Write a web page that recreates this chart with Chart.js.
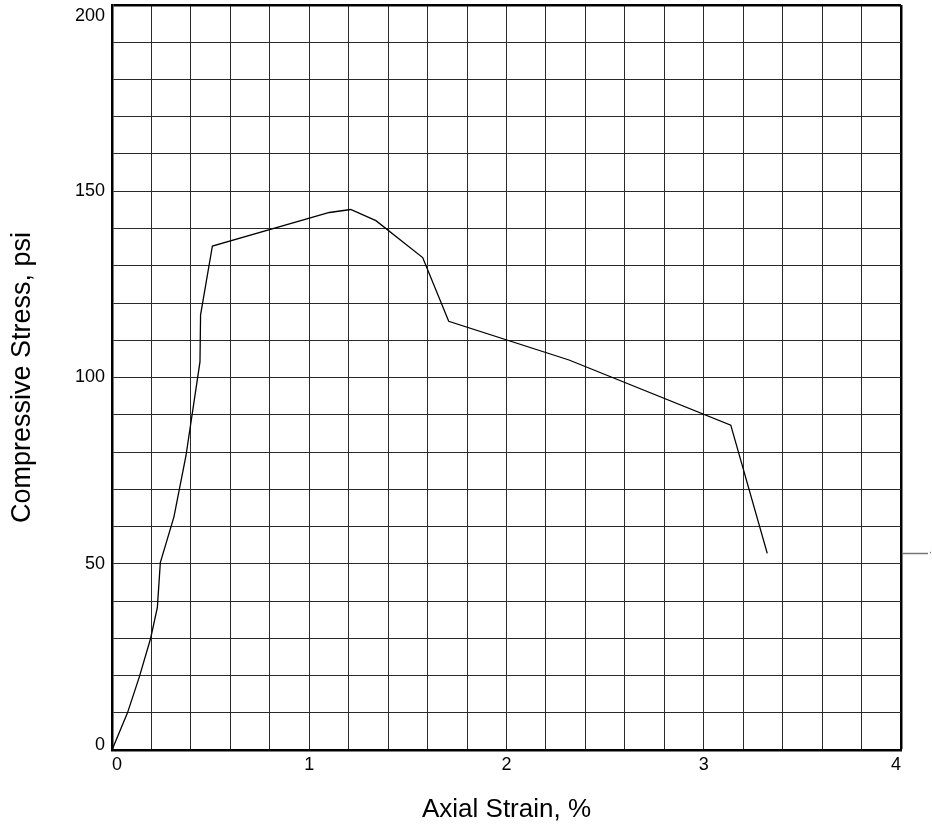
<!DOCTYPE html>
<html>
<head>
<meta charset="utf-8">
<script src="https://cdn.jsdelivr.net/npm/chart.js@4/dist/chart.umd.min.js"></script>
<style>
  html, body { margin: 0; padding: 0; background: #fff; }
  #wrap { width: 932px; height: 826px; }
</style>
</head>
<body>
<div id="wrap"><canvas id="chart" width="932" height="826"></canvas></div>
<script>
// axial strain (%) and compressive stress (psi)
const strain = [0, 0.078, 0.139, 0.196, 0.23, 0.245, 0.314, 0.375, 0.446, 0.449, 0.509, 1.102, 1.21, 1.338, 1.575, 1.707, 2.317, 3.137, 3.322];
const stress = [0, 9.9, 19.7, 30, 38.3, 50.3, 62.6, 79, 104.2, 116.8, 135.3, 144.3, 145.1, 142.1, 132.2, 115.1, 104.7, 87.2, 52.8];

const xLabels = [0, 1, 2, 3, 4];
const yLabels = [0, 50, 100, 150, 200];

const FONT = '"Liberation Sans", Arial, Helvetica, sans-serif';

function near(v, list) {
    return list.find(t => Math.abs(v - t) < 1e-6);
}

// short leader from the right edge at the final reading
const tailMark = {
    id: 'tailMark',
    afterDraw(chart) {
        const ctx = chart.ctx;
        const area = chart.chartArea;
        const y = Math.round(chart.scales.y.getPixelForValue(stress[stress.length - 1])) + 0.5;
        ctx.save();
        ctx.strokeStyle = '#777';
        ctx.lineWidth = 1.5;
        ctx.beginPath();
        ctx.moveTo(area.right + 1, y);
        ctx.lineTo(area.right + 27, y);
        ctx.moveTo(area.right + 29, y - 1);
        ctx.lineTo(area.right + 30, y - 1);
        ctx.stroke();
        ctx.restore();
    }
};

function renderChart() {
    const ctx = document.getElementById('chart').getContext('2d');
    new Chart(ctx, {
        type: 'scatter',
        data: {
            datasets: [{
                data: strain.map((s, i) => ({ x: s, y: stress[i] })),
                showLine: true,
                borderColor: '#000',
                borderWidth: 1.3,
                pointRadius: 0,
                tension: 0,
                fill: false
            }]
        },
        options: {
            responsive: false,
            animation: false,
            layout: { padding: { top: 5, right: 31, left: 0, bottom: 0 } },
            plugins: {
                legend: { display: false },
                tooltip: { enabled: false }
            },
            scales: {
                x: {
                    type: 'linear',
                    min: 0,
                    max: 4,
                    afterFit(scale) {
                        scale.height = 76;
                        scale.paddingLeft = 0;
                        scale.paddingRight = 0;
                    },
                    ticks: {
                        stepSize: 0.2,
                        autoSkip: false,
                        maxRotation: 0,
                        align: 'inner',
                        padding: 4,
                        color: '#000',
                        font: { family: FONT, size: 18 },
                        callback: v => {
                            const t = near(v, xLabels);
                            return t === undefined ? '' : String(t);
                        }
                    },
                    grid: {
                        drawTicks: false,
                        color: c => near(c.tick.value, [4]) !== undefined ? '#000' : '#2a2a2a',
                        lineWidth: c => near(c.tick.value, [4]) !== undefined ? 2.5 : 1
                    },
                    border: { color: '#000', width: 2.5 },
                    title: {
                        display: true,
                        text: 'Axial Strain, %',
                        color: '#000',
                        font: { family: FONT, size: 26, lineHeight: 1 },
                        padding: { top: 0, bottom: 3 }
                    }
                },
                y: {
                    type: 'linear',
                    min: 0,
                    max: 200,
                    afterFit(scale) {
                        scale.width = 112;
                        scale.paddingTop = 0;
                        scale.paddingBottom = 0;
                    },
                    ticks: {
                        stepSize: 10,
                        autoSkip: false,
                        padding: 7,
                        color: '#000',
                        font: { family: FONT, size: 18, lineHeight: 0.6 },
                        callback: v => {
                            const t = near(v, yLabels);
                            if (t === undefined) return '';
                            // edge labels sit inside the frame
                            if (t === 200) return ['', '', '200'];
                            if (t === 0) return ['0', ''];
                            return String(t);
                        }
                    },
                    grid: {
                        drawTicks: false,
                        color: c => c.tick.value === 200 ? '#000' : '#2a2a2a',
                        lineWidth: c => c.tick.value === 200 ? 2.5 : 1
                    },
                    border: { color: '#000', width: 2.5 },
                    title: {
                        display: true,
                        text: 'Compressive Stress, psi',
                        color: '#000',
                        font: { family: FONT, size: 27, lineHeight: 1 },
                        padding: { top: 9, bottom: 0 }
                    }
                }
            }
        },
        plugins: [tailMark]
    });
}

document.addEventListener('DOMContentLoaded', renderChart);
</script>
</body>
</html>
